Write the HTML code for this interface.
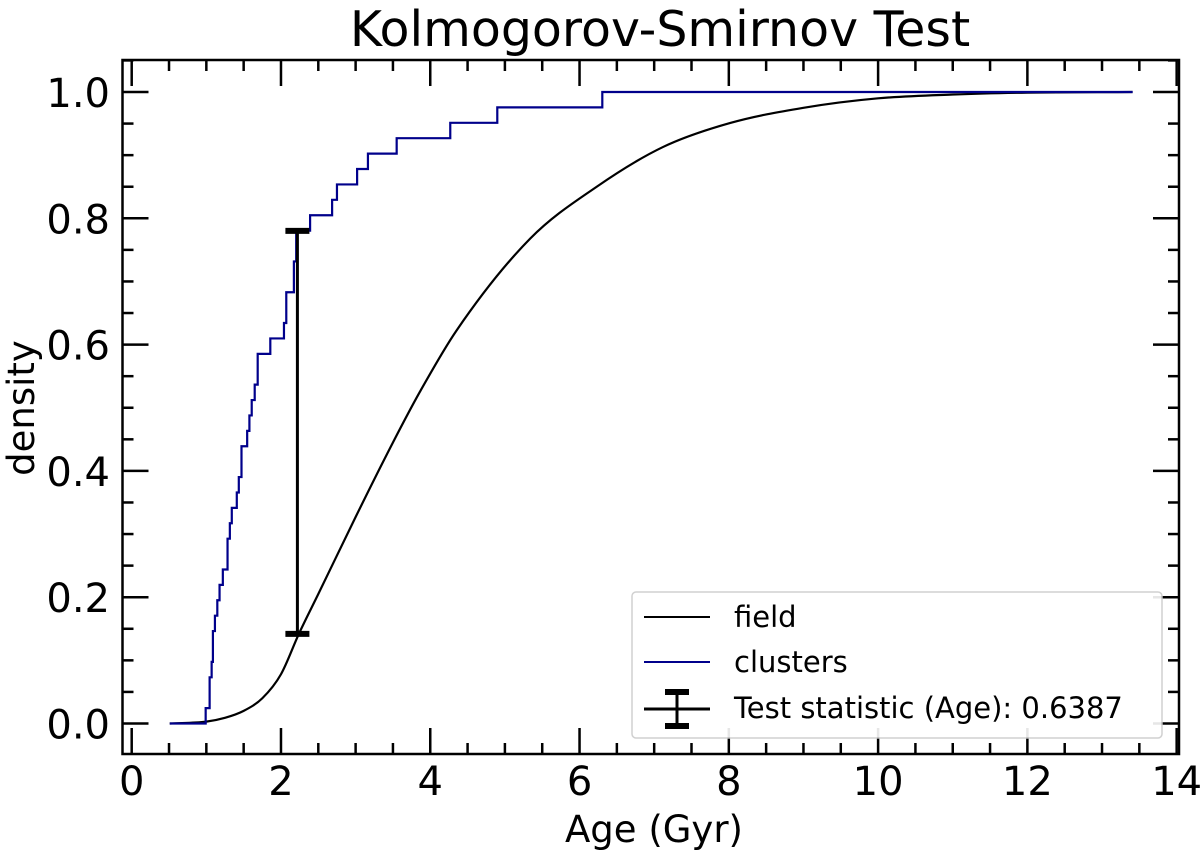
<!DOCTYPE html>
<html><head><meta charset="utf-8"><style>
body{margin:0;background:#fff;}
svg{display:block;font-family:"DejaVu Sans","Liberation Sans",sans-serif;}
</style></head><body>
<svg id="chart" width="1200" height="863">
<text x="660" y="46" font-size="49" text-anchor="middle">Kolmogorov-Smirnov Test</text>
<text x="654" y="842" font-size="37" text-anchor="middle">Age (Gyr)</text>
<text x="34" y="408" font-size="37" text-anchor="middle" transform="rotate(-90 34 408)">density</text>
<g id="axes"></g>
<g id="marks"></g>
<rect x="122.5" y="60" width="1056.5" height="694" fill="none" stroke="#000" stroke-width="2.5"/>
<g>
<rect x="632" y="592" width="530" height="146" rx="4" fill="#fff" stroke="#ccc" stroke-width="1.5" opacity="0.9"/>
<line x1="644" y1="617" x2="710" y2="617" stroke="#000" stroke-width="2"/>
<text x="734" y="627" font-size="29">field</text>
<line x1="644" y1="662" x2="710" y2="662" stroke="#00008b" stroke-width="2"/>
<text x="734" y="672" font-size="29">clusters</text>
<g stroke="#000">
<line x1="644" y1="709" x2="710" y2="709" stroke-width="3"/>
<line x1="677" y1="692" x2="677" y2="726" stroke-width="3"/>
<line x1="665" y1="692" x2="689" y2="692" stroke-width="6"/>
<line x1="665" y1="726" x2="689" y2="726" stroke-width="6"/>
</g>
<text x="734" y="718" font-size="29">Test statistic (Age): 0.6387</text>
</g>
</svg>
<script>
const clusterAges=[0.51,0.991,1.044,1.071,1.088,1.115,1.147,1.177,1.221,1.284,1.315,1.341,1.408,1.435,1.471,1.547,1.577,1.608,1.648,1.688,1.857,2.040,2.071,2.173,2.204,2.39,2.685,2.75,3.02,3.165,3.55,4.268,4.898,6.305,13.41];
const clusterCdf=[0,1,3,4,6,7,8,9,10,12,13,14,15,16,18,19,20,21,22,24,25,26,28,30,32,33,34,35,36,37,38,39,40,41,41].map(v=>v/41);
const fieldAges=[0.51,1.0,1.25,1.5,1.75,2.0,2.24,2.5,3.0,3.5,3.86,4.35,5.34,6.23,7.12,8.02,9.0,10.0,11.0,12.0,13.41];
const fieldCdf=[0,0.003,0.009,0.02,0.04,0.078,0.142,0.205,0.327,0.445,0.525,0.622,0.768,0.85,0.913,0.951,0.975,0.99,0.996,0.999,1.0];
const ksX=2.22, ksLow=0.142, ksHigh=0.780;
const xTicks=[0,2,4,6,8,10,12,14];
const yTicks=[0.0,0.2,0.4,0.6,0.8,1.0];
const X=v=>131.7+v*74.64, Y=v=>723.5-v*631.5;
const NS="http://www.w3.org/2000/svg";
const axes=document.getElementById('axes'), marks=document.getElementById('marks');
function mk(tag,attrs,parent){const e=document.createElementNS(NS,tag);for(const k in attrs)e.setAttribute(k,attrs[k]);parent.appendChild(e);return e;}
for(let i=0;i<=28;i++){const v=i*0.5;const major=i%4==0;const L=major?26:11;
 const t1=mk('line',{x1:X(v),x2:X(v),y1:754,y2:754-L,stroke:'#000','stroke-width':2.5},axes);
 
 
 mk('line',{x1:X(v),x2:X(v),y1:60,y2:60+L,stroke:'#000','stroke-width':2.5},axes);}
for(let i=-1;i<=21;i++){const v=i*0.05;const y=Y(v);if(y>754||y<60)continue;const major=i%4==0;const L=major?26:11;
 const t=mk('line',{x1:122.5,x2:122.5+L,y1:y,y2:y,stroke:'#000','stroke-width':2.5},axes);
 
 
 mk('line',{x1:1179,x2:1179-L,y1:y,y2:y,stroke:'#000','stroke-width':2.5},axes);}
xTicks.forEach(v=>{const t=mk('text',{x:X(v),y:795,'font-size':40,'text-anchor':'middle'},axes);t.textContent=v;
 
 });
yTicks.forEach(v=>{const t=mk('text',{x:110,y:Y(v)+15,'font-size':40,'text-anchor':'end'},axes);t.textContent=v.toFixed(1);
 
 });
const n=fieldAges.length, xs=fieldAges.map(X), ys=fieldCdf.map(Y);
const dk=[],m=[];
for(let i=0;i<n-1;i++)dk.push((ys[i+1]-ys[i])/(xs[i+1]-xs[i]));
m[0]=dk[0];m[n-1]=dk[n-2];
for(let i=1;i<n-1;i++){m[i]=(dk[i-1]*dk[i]<=0)?0:(dk[i-1]+dk[i])/2;}
for(let i=0;i<n-1;i++){if(dk[i]===0){m[i]=0;m[i+1]=0;continue;}const a=m[i]/dk[i],b=m[i+1]/dk[i],s=a*a+b*b;if(s>9){const t=3/Math.sqrt(s);m[i]=t*a*dk[i];m[i+1]=t*b*dk[i];}}
let d='M'+xs[0]+','+ys[0];
for(let i=0;i<n-1;i++){const h=xs[i+1]-xs[i];d+=' C'+(xs[i]+h/3)+','+(ys[i]+m[i]*h/3)+' '+(xs[i+1]-h/3)+','+(ys[i+1]-m[i+1]*h/3)+' '+xs[i+1]+','+ys[i+1];}
const f=mk('path',{d:d,fill:'none',stroke:'#000','stroke-width':2.2},marks);


let s='M'+X(clusterAges[0])+','+Y(clusterCdf[0]);
for(let i=1;i<clusterAges.length;i++){s+=' H'+X(clusterAges[i])+' V'+Y(clusterCdf[i]);}
const c=mk('path',{d:s,fill:'none',stroke:'#00008b','stroke-width':2.2},marks);


const g=mk('g',{stroke:'#000'},marks);


mk('line',{x1:X(ksX),x2:X(ksX),y1:Y(ksLow),y2:Y(ksHigh),'stroke-width':3},g);
mk('line',{x1:X(ksX)-12,x2:X(ksX)+12,y1:Y(ksLow),y2:Y(ksLow),'stroke-width':6},g);
mk('line',{x1:X(ksX)-12,x2:X(ksX)+12,y1:Y(ksHigh),y2:Y(ksHigh),'stroke-width':6},g);
</script>
</body></html>
